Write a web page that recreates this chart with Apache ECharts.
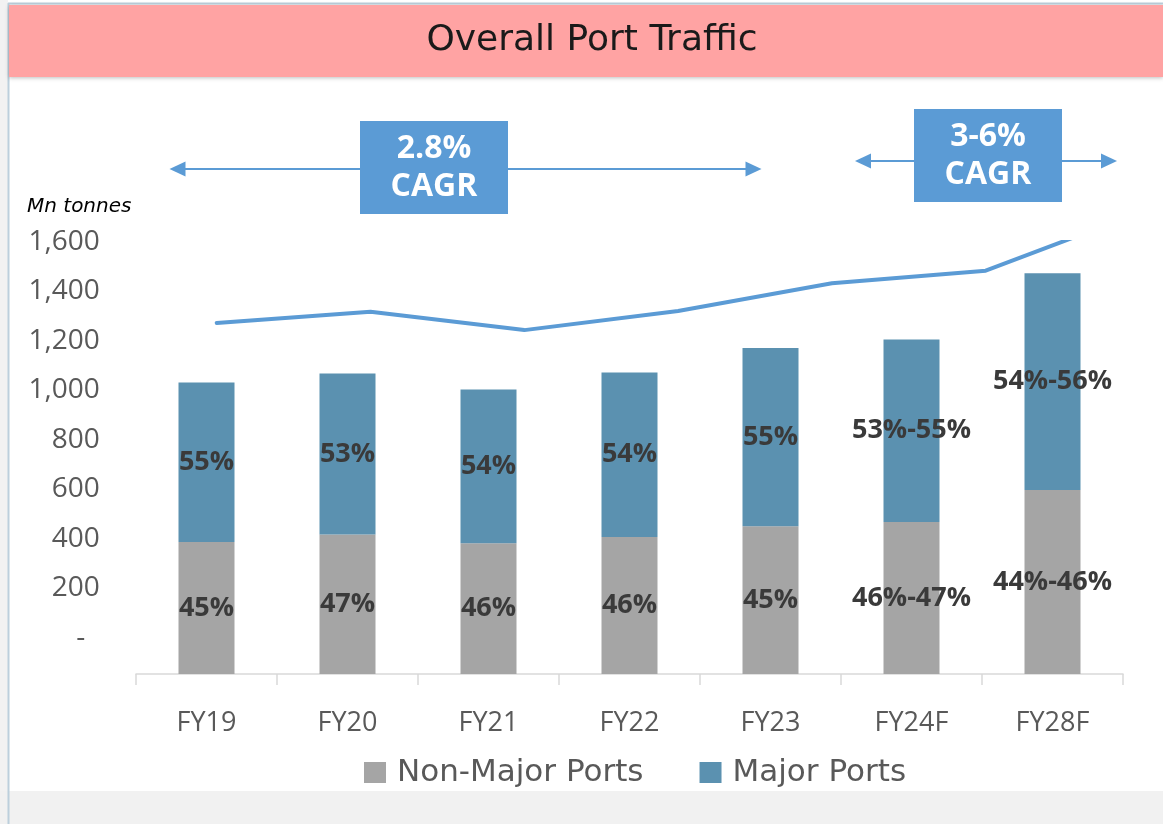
<!DOCTYPE html>
<html>
<head>
<meta charset="utf-8">
<title>Overall Port Traffic</title>
<script src="https://cdn.jsdelivr.net/npm/echarts@6/dist/echarts.min.js"></script>
<style>
html,body{margin:0;padding:0;background:#fff}
#chart{width:1163px;height:824px}
</style>
</head>
<body>
<div id="chart"></div>
<script>

// data (Mn tonnes)

const years = ["FY19","FY20","FY21","FY22","FY23","FY24F","FY28F"]

const nonMajor = [533,564,528,554,597,614,743]
const major = [645,650,621,664,720,738,876]

const nonMajorPct = ["45%","47%","46%","46%","45%","46%-47%","44%-46%"]
const majorPct = ["55%","53%","54%","54%","55%","53%-55%","54%-56%"]

// overall traffic line
const total = [1273,1318,1244,1321,1433,1484,1719]

const legendNames = ["Non-Major Ports","Major Ports"]

const FONT = "Open Sans"
const WIDE = "DejaVu Sans"
const BLUE = "#5B9BD5"

/* -------------------------
annotations (title bar, CAGR arrows)
------------------------- */

function arrow(x1,x2,y){
return [
{type:"line",shape:{x1:x1+14,y1:y,x2:x2-14,y2:y},style:{stroke:BLUE,lineWidth:2}},
{type:"polygon",shape:{points:[[x1,y],[x1+16,y-7.5],[x1+16,y+7.5]]},style:{fill:BLUE}},
{type:"polygon",shape:{points:[[x2,y],[x2-16,y-7.5],[x2-16,y+7.5]]},style:{fill:BLUE}}
]
}

function cagrBox(x,y,line1,line2){
return [
{type:"rect",shape:{x:x,y:y,width:148,height:93},style:{fill:BLUE}},
{type:"text",style:{text:line1,x:x+74,y:y+28,textAlign:"center",textVerticalAlign:"middle",verticalAlign:"middle",font:"bold 32px '"+FONT+"'",fill:"#fff"}},
{type:"text",style:{text:line2,x:x+74,y:y+66,textAlign:"center",textVerticalAlign:"middle",verticalAlign:"middle",font:"bold 32px '"+FONT+"'",fill:"#fff"}}
]
}

const graphics = [
{type:"rect",shape:{x:0,y:0,width:8,height:824},style:{fill:"#f2f2f2"}},
{type:"rect",shape:{x:0,y:791,width:1163,height:33},style:{fill:"#f1f1f1"}},
{type:"line",shape:{x1:8.5,y1:3,x2:8.5,y2:824},style:{stroke:"#bccfdc",lineWidth:2}},
{type:"line",shape:{x1:8,y1:3.5,x2:1163,y2:3.5},style:{stroke:"#bccfdc",lineWidth:2}},
{type:"rect",shape:{x:9,y:5,width:1154,height:72},style:{fill:"#FFA3A3",shadowBlur:4,shadowColor:"rgba(0,0,0,0.25)",shadowOffsetY:1}},
{type:"text",style:{text:"Overall Port Traffic",x:592,y:41,textAlign:"center",textVerticalAlign:"middle",verticalAlign:"middle",font:"36px '"+WIDE+"'",fill:"#1a1a1a"}},
{type:"text",style:{text:"Mn tonnes",x:27,y:207,textVerticalAlign:"middle",verticalAlign:"middle",font:"italic 20px '"+WIDE+"'",fill:"#000"}}
]
.concat(arrow(169.5,761.5,169))
.concat(cagrBox(360,121,"2.8%","CAGR"))
.concat(arrow(855,1117,161))
.concat(cagrBox(914,109,"3-6%","CAGR"))

/* -------------------------
chart
------------------------- */

const chart = echarts.init(document.getElementById("chart"))

chart.setOption({

animation:false,

textStyle:{fontFamily:FONT},

graphic:graphics,

legend:{
data:legendNames,
left:359,
top:752,
icon:"rect",
itemWidth:22,
itemHeight:21,
itemGap:56,
textStyle:{fontSize:31,fontFamily:WIDE,color:"#595959",padding:[0,0,0,6]}
},

// grid 0: line + labelled axis, grid 1: bars
grid:[
{left:216.7,top:242,width:922.8,height:396},
{left:136,top:253.25,width:987,height:420.75}
],

xAxis:[
{type:"category",gridIndex:0,data:years,boundaryGap:false,show:false},
{
type:"category",gridIndex:1,data:years,
axisLine:{lineStyle:{color:"#d9d9d9",width:1.5}},
axisTick:{show:true,length:11,lineStyle:{color:"#d9d9d9",width:1.5}},
axisLabel:{fontSize:27,color:"#595959",margin:36}
}
],

yAxis:[
{
type:"value",gridIndex:0,min:0,max:1600,interval:200,
axisLine:{show:false},axisTick:{show:false},splitLine:{show:false},
axisLabel:{
fontSize:28,color:"#595959",margin:117,
formatter:v => v === 0 ? "-  " : v.toLocaleString("en-US")
}
},
{type:"value",gridIndex:1,min:0,max:1700,show:false,splitLine:{show:false}}
],

series:[
{
name:"Non-Major Ports",
type:"bar",
xAxisIndex:1,yAxisIndex:1,
stack:"ports",
barWidth:56,
itemStyle:{color:"#A5A5A5"},
label:{
show:true,position:"inside",
formatter:p => nonMajorPct[p.dataIndex],
fontSize:27,fontWeight:"bold",color:"#3a3a3a"
},
data:nonMajor
},
{
name:"Major Ports",
type:"bar",
xAxisIndex:1,yAxisIndex:1,
stack:"ports",
barWidth:56,
itemStyle:{color:"#5B91B0"},
label:{
show:true,position:"inside",
formatter:p => majorPct[p.dataIndex],
fontSize:27,fontWeight:"bold",color:"#3a3a3a"
},
data:major
},
{
name:"Total",
type:"line",
xAxisIndex:0,yAxisIndex:0,
clip:true,
showSymbol:false,
silent:true,
lineStyle:{color:BLUE,width:4,cap:"round"},
data:total
}
]

})

</script>
</body>
</html>
